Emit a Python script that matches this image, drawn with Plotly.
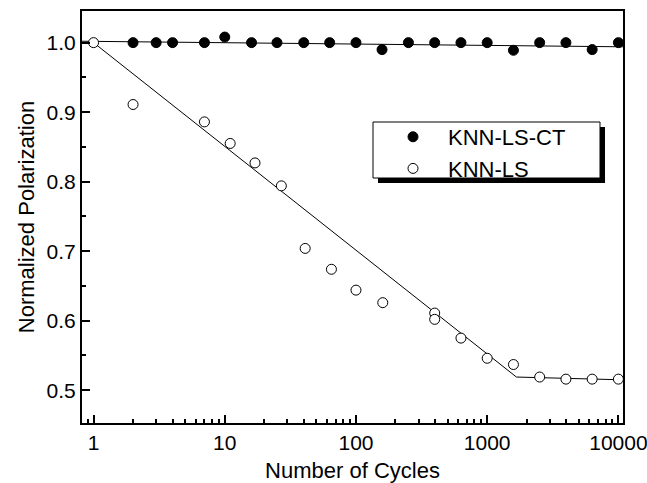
import plotly.graph_objects as go

# ---- data ----
ct_x = [2, 3, 4, 7, 10, 16, 25, 40, 63, 100, 158, 251, 398, 631, 1000, 1585, 2512, 3981, 6310, 10000]
ct_y = [1.0, 1.0, 1.0, 1.0, 1.008, 1.0, 1.0, 1.0, 1.0, 1.0, 0.990, 1.0, 1.0, 1.0, 1.0, 0.989, 1.0, 1.0, 0.990, 1.0]

ls_x = [1, 2, 7, 11, 17, 27, 41, 65, 100, 160, 398, 398, 631, 1000, 1585, 2512, 3981, 6310, 10000]
ls_y = [1.0, 0.911, 0.886, 0.855, 0.827, 0.794, 0.704, 0.674, 0.644, 0.626, 0.611, 0.602, 0.575, 0.546, 0.537, 0.519, 0.516, 0.516, 0.516]

ct_fit_x = [0.817, 10840]
ct_fit_y = [1.002, 0.994]
ls_fit_x = [1, 1670, 10840]
ls_fit_y = [1.0, 0.519, 0.515]

x_tickvals = [1, 10, 100, 1000, 10000]
x_ticktext = ["1", "10", "100", "1000", "10000"]
y_tickvals = [0.5, 0.6, 0.7, 0.8, 0.9, 1.0]
y_ticktext = ["0.5", "0.6", "0.7", "0.8", "0.9", "1.0"]
x_minor = [0.9] + [m * 10 ** d for d in range(4) for m in range(2, 10)]
y_minor = [0.55, 0.65, 0.75, 0.85, 0.95]

names = ["KNN-LS-CT", "KNN-LS"]

# ---- geometry ----
W, H = 647, 483
ML, MR, MT, MB = 82, 24, 11, 60
PW, PH = W - ML - MR, H - MT - MB
FONT = "Liberation Sans, Arial, sans-serif"

def px2paper_x(px):
    return (px - ML) / PW

def px2paper_y(py):
    return (H - MB - py) / PH

box_left, box_top, box_right, box_bottom = 373, 122, 600, 178
shadow = 5
leg_left, leg_top = 378, 116

fig = go.Figure()
fig.add_trace(go.Scatter(x=ct_fit_x, y=ct_fit_y, mode="lines",
                         line=dict(color="black", width=1), showlegend=False, hoverinfo="skip"))
fig.add_trace(go.Scatter(x=ls_fit_x, y=ls_fit_y, mode="lines",
                         line=dict(color="black", width=1), showlegend=False, hoverinfo="skip"))
fig.add_trace(go.Scatter(x=ct_x, y=ct_y, mode="markers", name=names[0],
                         marker=dict(symbol="circle", size=10, color="black",
                                     line=dict(color="black", width=1))))
fig.add_trace(go.Scatter(x=ls_x, y=ls_y, mode="markers", name=names[1],
                         marker=dict(symbol="circle", size=10, color="white",
                                     line=dict(color="black", width=1))))

# legend box with drop shadow
fig.add_shape(type="rect", xref="paper", yref="paper",
              x0=px2paper_x(box_left + shadow), x1=px2paper_x(box_right + shadow),
              y0=px2paper_y(box_bottom + shadow), y1=px2paper_y(box_top + shadow),
              fillcolor="black", line=dict(width=0), layer="above")
fig.add_shape(type="rect", xref="paper", yref="paper",
              x0=px2paper_x(box_left), x1=px2paper_x(box_right),
              y0=px2paper_y(box_bottom), y1=px2paper_y(box_top),
              fillcolor="white", line=dict(color="black", width=1), layer="above")

fig.update_layout(
    width=W, height=H,
    margin=dict(l=ML, r=MR, t=MT, b=MB),
    paper_bgcolor="white", plot_bgcolor="white",
    font=dict(family=FONT, color="black", size=21),
    showlegend=True,
    legend=dict(x=px2paper_x(leg_left), y=px2paper_y(leg_top), xanchor="left", yanchor="top",
                bgcolor="rgba(0,0,0,0)", borderwidth=0,
                font=dict(family=FONT, size=22, color="black"),
                itemwidth=60, tracegroupgap=0),
)
fig.update_xaxes(type="log", range=[-0.088, 4.035], automargin=False,
                 tickvals=x_tickvals, ticktext=x_ticktext, ticklabeloverflow="allow",
                 ticks="inside", ticklen=8, tickwidth=2, tickcolor="black",
                 minor=dict(tickvals=x_minor, ticks="inside", ticklen=4, tickwidth=2, tickcolor="black"),
                 showline=True, linecolor="black", linewidth=2, mirror=True,
                 showgrid=False, zeroline=False,
                 tickfont=dict(size=21),
                 title=dict(text="Number of Cycles", font=dict(size=22), standoff=10))
fig.update_yaxes(range=[0.4529, 1.0455], automargin=False,
                 tickvals=y_tickvals, ticktext=y_ticktext, ticklabeloverflow="allow",
                 ticks="inside", ticklen=8, tickwidth=2, tickcolor="black",
                 minor=dict(tickvals=y_minor, ticks="inside", ticklen=4, tickwidth=2, tickcolor="black"),
                 showline=True, linecolor="black", linewidth=2, mirror=True,
                 showgrid=False, zeroline=False,
                 tickfont=dict(size=21),
                 title=dict(text="Normalized Polarization", font=dict(size=22), standoff=6))

fig.write_html("out.html")
